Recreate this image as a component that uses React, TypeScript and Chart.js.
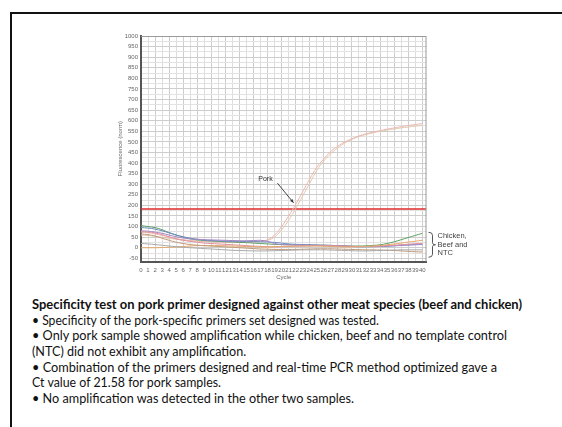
import React, { useEffect, useLayoutEffect, useRef } from "react";
import { Chart, registerables } from "chart.js";

Chart.register(...registerables);

// ---------- data ----------
const cycles = [0, 1, 2, 3, 4, 5, 6, 7, 8, 9, 10, 11, 12, 13, 14, 15, 16, 17, 18, 19, 20, 21, 22, 23, 24, 25, 26, 27, 28, 29, 30, 31, 32, 33, 34, 35, 36, 37, 38, 39, 40];

const porkA = [75, 72, 65, 58, 50, 43, 38, 34, 32, 30, 28, 27, 26, 25, 25, 25, 27, 30, 38, 60, 100, 150, 205, 265, 325, 380, 420, 455, 480, 500, 515, 528, 538, 546, 553, 560, 566, 572, 577, 582, 586];
const porkB = [60, 58, 54, 49, 44, 40, 36, 33, 31, 29, 28, 27, 26, 26, 25, 26, 27, 29, 35, 50, 85, 130, 185, 245, 305, 365, 410, 445, 472, 495, 512, 525, 535, 543, 550, 556, 561, 566, 570, 574, 578];
const negGreen = [105, 100, 95, 85, 72, 60, 50, 42, 37, 34, 32, 30, 28, 27, 25, 24, 22, 20, 18, 16, 15, 14, 14, 13, 13, 12, 12, 11, 10, 9, 8, 8, 9, 11, 14, 20, 28, 38, 48, 58, 68];
const negBlue = [95, 93, 88, 80, 70, 60, 52, 45, 40, 36, 34, 32, 31, 30, 30, 29, 29, 28, 27, 25, 22, 18, 16, 15, 14, 13, 12, 11, 10, 8, 6, 5, 5, 5, 6, 7, 9, 11, 13, 15, 18];
const negPurple = [80, 78, 74, 68, 60, 52, 46, 42, 40, 38, 37, 36, 35, 34, 33, 33, 34, 35, 30, 20, 15, 14, 13, 12, 12, 11, 10, 9, 8, 7, 6, 5, 5, 6, 7, 8, 10, 12, 13, 14, 15];
const negPink = [75, 74, 70, 62, 52, 42, 35, 30, 26, 22, 20, 18, 16, 14, 12, 10, 8, 6, 5, 4, 5, 6, 7, 8, 9, 10, 10, 10, 9, 8, 7, 6, 6, 7, 8, 10, 12, 14, 17, 19, 20];
const negOrange = [0, 0, 0, 1, 2, 4, 6, 8, 10, 10, 10, 10, 9, 8, 7, 6, 5, 4, 4, 5, 6, 7, 8, 8, 8, 8, 7, 6, 5, 4, 4, 5, 6, 8, 10, 14, 18, 22, 27, 31, 35];
const negBrown = [65, 62, 55, 45, 35, 26, 20, 15, 12, 10, 8, 6, 4, 2, 0, -2, -4, -6, -7, -8, -8, -8, -8, -7, -6, -5, -5, -5, -6, -7, -8, -9, -10, -10, -11, -12, -13, -15, -17, -19, -20];
const negGray = [20, 18, 15, 12, 8, 5, 2, 0, -2, -4, -6, -8, -10, -12, -13, -14, -15, -15, -15, -14, -13, -12, -11, -10, -10, -10, -10, -11, -12, -13, -14, -15, -15, -14, -13, -12, -11, -10, -10, -10, -10];

const threshold = 183;

const yMin = -65;
const yMax = 1000;
const yStep = 25;
const yLabelStep = 50;
const xMax = 40.6;

const yAxisTitle = "Fluorescence (norm)";
const xAxisTitle = "Cycle";
const porkLabel = "Pork";
const porkLabelAt = [17.7, 323];
const porkArrowFrom = [19.4, 305];
const porkArrowTo = [21.7, 212];
const negLabelLines = ["Chicken,", "Beef and", "NTC"];
const negBracketRange = [73, -45];

const textLines = [
  { text: "Specificity test on pork primer designed against other meat species (beef and chicken)", bold: true, width: 490 },
  { text: "\u2022 Specificity of the pork-specific primers set designed was tested.", bold: false, width: 347 },
  { text: "\u2022 Only pork sample showed amplification while chicken, beef and no template control", bold: false, width: 475 },
  { text: "(NTC) did not exhibit any amplification.", bold: false, width: 0 },
  { text: "\u2022 Combination of the primers designed and real-time PCR method optimized gave a", bold: false, width: 465 },
  { text: "Ct value of 21.58 for pork samples.", bold: false, width: 189 },
  { text: "\u2022 No amplification was detected in the other two samples.", bold: false, width: 322 },
];

// ---------- helpers ----------
const toXY = (arr: number[]) => arr.map((v, i) => ({ x: cycles[i], y: v }));

const yTickValues: number[] = [];
for (let v = -50; v <= yMax; v += yStep) yTickValues.push(v);

const annotPlugin = {
  id: "annot",
  afterDatasetsDraw(chart: any) {
    const { ctx, chartArea, scales } = chart;
    const x = scales.x;
    const y = scales.y;
    ctx.save();
    ctx.strokeStyle = "#9a9a9a";
    ctx.lineWidth = 1;
    ctx.beginPath();
    ctx.moveTo(chartArea.left, chartArea.top + 0.5);
    ctx.lineTo(chartArea.right - 0.5, chartArea.top + 0.5);
    ctx.lineTo(chartArea.right - 0.5, chartArea.bottom);
    ctx.stroke();

    ctx.fillStyle = "#333";
    ctx.font = '7px "Liberation Sans", Arial, sans-serif';
    ctx.textAlign = "center";
    ctx.textBaseline = "middle";
    ctx.fillText(porkLabel, x.getPixelForValue(porkLabelAt[0]), y.getPixelForValue(porkLabelAt[1]));
    const ax1 = x.getPixelForValue(porkArrowFrom[0]);
    const ay1 = y.getPixelForValue(porkArrowFrom[1]);
    const ax2 = x.getPixelForValue(porkArrowTo[0]);
    const ay2 = y.getPixelForValue(porkArrowTo[1]);
    ctx.strokeStyle = "#444";
    ctx.lineWidth = 1;
    ctx.beginPath();
    ctx.moveTo(ax1, ay1);
    ctx.lineTo(ax2, ay2);
    ctx.stroke();
    const ang = Math.atan2(ay2 - ay1, ax2 - ax1);
    ctx.fillStyle = "#333";
    ctx.beginPath();
    ctx.moveTo(ax2, ay2);
    ctx.lineTo(ax2 - 4 * Math.cos(ang - 0.4), ay2 - 4 * Math.sin(ang - 0.4));
    ctx.lineTo(ax2 - 4 * Math.cos(ang + 0.4), ay2 - 4 * Math.sin(ang + 0.4));
    ctx.closePath();
    ctx.fill();

    const bx = chartArea.right + 2;
    const by1 = y.getPixelForValue(negBracketRange[0]);
    const by2 = y.getPixelForValue(negBracketRange[1]);
    const bym = (by1 + by2) / 2;
    ctx.strokeStyle = "#555";
    ctx.beginPath();
    ctx.moveTo(bx, by1);
    ctx.quadraticCurveTo(bx + 4, by1, bx + 4, by1 + 3);
    ctx.lineTo(bx + 4, bym - 2);
    ctx.quadraticCurveTo(bx + 4, bym, bx + 7, bym);
    ctx.quadraticCurveTo(bx + 4, bym, bx + 4, bym + 2);
    ctx.lineTo(bx + 4, by2 - 3);
    ctx.quadraticCurveTo(bx + 4, by2, bx, by2);
    ctx.stroke();

    ctx.fillStyle = "#444";
    ctx.font = '7.5px "Liberation Sans", Arial, sans-serif';
    ctx.textAlign = "left";
    ctx.textBaseline = "middle";
    negLabelLines.forEach((t, i) => {
      ctx.fillText(t, chartArea.right + 11, bym - 8.5 + i * 8.5);
    });
    ctx.restore();
  },
};

const lineDs = (label: string, data: number[], color: string, width = 1) => ({
  label,
  data: toXY(data),
  borderColor: color,
  backgroundColor: color,
  borderWidth: width,
  pointRadius: 0,
  tension: 0.4,
  fill: false,
});

export default function App() {
  const canvasRef = useRef<HTMLCanvasElement>(null);
  const lineRefs = useRef<(HTMLSpanElement | null)[]>([]);

  useEffect(() => {
    const canvas = canvasRef.current;
    if (!canvas) return;
    const chart = new Chart(canvas, {
      type: "line",
      data: {
        datasets: [
          lineDs("Gray", negGray, "#a8a8a8"),
          lineDs("Brown", negBrown, "#c09a78"),
          lineDs("Orange", negOrange, "#e6a86a"),
          lineDs("Pink", negPink, "#e0909e"),
          lineDs("Purple", negPurple, "#a486c8"),
          lineDs("Blue", negBlue, "#6c8cc0"),
          lineDs("Green", negGreen, "#5fa064"),
          lineDs("Pork A", porkA, "#ebb8b2"),
          lineDs("Pork B", porkB, "#e0c8ae"),
          {
            label: "Threshold",
            data: [{ x: 0, y: threshold }, { x: xMax, y: threshold }],
            borderColor: "#e02a2a",
            borderWidth: 1.6,
            pointRadius: 0,
            fill: false,
          },
        ],
      } as any,
      options: {
        responsive: false,
        animation: false,
        events: [],
        layout: { padding: { left: 0, top: 11, right: 53.5, bottom: 0 } },
        plugins: { legend: { display: false }, tooltip: { enabled: false } },
        scales: {
          x: {
            type: "linear",
            min: 0,
            max: xMax,
            afterBuildTicks: (scale: any) => {
              scale.ticks = cycles.map((v) => ({ value: v }));
            },
            afterFit: (scale: any) => {
              scale.height = 28.5;
            },
            grid: {
              color: (c: any) => (c.tick && c.tick.value % 2 === 0 ? "#cdcdcd" : "#dedede"),
              lineWidth: 1,
              drawTicks: false,
            },
            border: { color: "#555", width: 2 },
            ticks: {
              autoSkip: false,
              maxRotation: 0,
              minRotation: 0,
              padding: 5,
              color: "#666",
              font: { size: 6, family: '"Liberation Sans", Arial, sans-serif' },
              callback: (v: any) => String(v),
            },
            title: {
              display: true,
              text: xAxisTitle,
              color: "#666",
              font: { size: 6, family: '"Liberation Sans", Arial, sans-serif' },
              padding: { top: 0, bottom: 8.7 },
            },
          },
          y: {
            type: "linear",
            min: yMin,
            max: yMax,
            afterBuildTicks: (scale: any) => {
              scale.ticks = yTickValues.map((v) => ({ value: v }));
            },
            afterFit: (scale: any) => {
              scale.width = 41;
            },
            grid: {
              color: (c: any) => (c.tick && c.tick.value % yLabelStep === 0 ? "#cdcdcd" : "#e2e2e2"),
              lineWidth: 1,
              drawTicks: false,
            },
            border: { color: "#555", width: 2 },
            ticks: {
              autoSkip: false,
              padding: 3,
              color: "#666",
              font: { size: 6, family: '"Liberation Sans", Arial, sans-serif' },
              callback: (v: any) => (Number(v) % yLabelStep === 0 ? String(v) : ""),
            },
            title: {
              display: true,
              text: yAxisTitle,
              color: "#666",
              font: { size: 6, family: '"Liberation Sans", Arial, sans-serif' },
              padding: { top: 17, bottom: 0 },
            },
          },
        },
      } as any,
      plugins: [annotPlugin],
    });
    return () => chart.destroy();
  }, []);

  useLayoutEffect(() => {
    const scales: number[] = [];
    lineRefs.current.forEach((el, i) => {
      if (!el) return;
      el.style.transform = "none";
      const w = el.getBoundingClientRect().width;
      if (w > 0 && textLines[i].width > 0) scales[i] = textLines[i].width / w;
    });
    const known = scales.filter((s) => s !== undefined);
    const avg = known.reduce((a, b) => a + b, 0) / (known.length || 1);
    lineRefs.current.forEach((el, i) => {
      if (!el) return;
      const s = scales[i] !== undefined ? scales[i] : avg;
      el.style.transform = `scaleX(${s})`;
    });
  }, []);

  return (
    <div
      style={{
        position: "fixed",
        left: 0,
        top: 0,
        width: 562,
        height: 427,
        overflow: "hidden",
        background: "#fff",
      }}
    >
      <div
        style={{
          position: "absolute",
          left: 10,
          top: 12,
          width: 600,
          height: 500,
          border: "2px solid #111",
          boxSizing: "border-box",
        }}
      />
      <canvas
        ref={canvasRef}
        width={380}
        height={265}
        style={{ position: "absolute", left: 100, top: 25, width: 380, height: 265 }}
      />
      <div
        style={{
          position: "absolute",
          left: 32,
          top: 297,
          fontFamily: 'Lato, "Open Sans", sans-serif',
          fontSize: 13,
          lineHeight: "15.65px",
          color: "#111",
        }}
      >
        {textLines.map((l, i) => (
          <div key={i} style={{ whiteSpace: "nowrap", height: 15.65 }}>
            <span
              ref={(el) => {
                lineRefs.current[i] = el;
              }}
              style={{
                display: "inline-block",
                fontWeight: l.bold ? 700 : 400,
                transformOrigin: "0 50%",
              }}
            >
              {l.text}
            </span>
          </div>
        ))}
      </div>
    </div>
  );
}
